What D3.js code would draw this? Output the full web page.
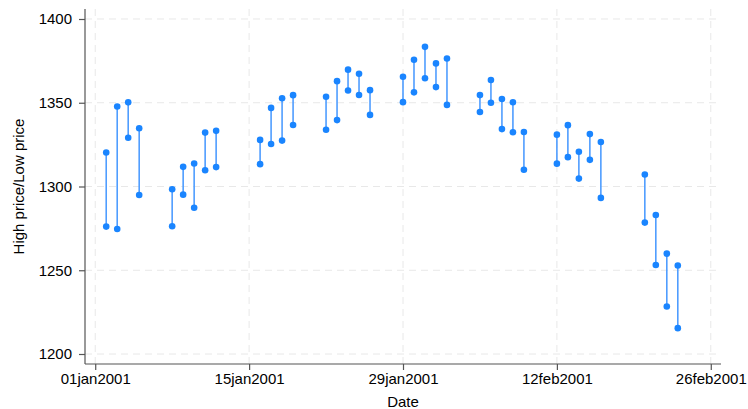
<!DOCTYPE html>
<html>
<head>
<meta charset="utf-8">
<script src="https://cdn.jsdelivr.net/npm/d3@7"></script>
<style>
  body { margin: 0; background: #fff; }
  text { font-family: "Liberation Sans", Arial, sans-serif; fill: #000; }
</style>
</head>
<body>
<div id="chart"></div>
<script>
// trading days, S&P 500, Jan-Feb 2001
const dates = ["2001-01-02","2001-01-03","2001-01-04","2001-01-05","2001-01-08","2001-01-09",
  "2001-01-10","2001-01-11","2001-01-12","2001-01-16","2001-01-17","2001-01-18","2001-01-19",
  "2001-01-22","2001-01-23","2001-01-24","2001-01-25","2001-01-26","2001-01-29","2001-01-30",
  "2001-01-31","2001-02-01","2001-02-02","2001-02-05","2001-02-06","2001-02-07","2001-02-08",
  "2001-02-09","2001-02-12","2001-02-13","2001-02-14","2001-02-15","2001-02-16","2001-02-20",
  "2001-02-21","2001-02-22","2001-02-23"];
const high = [1320.28,1347.76,1350.24,1334.77,1298.35,1311.72,1313.76,1332.19,1333.21,1327.81,
  1346.92,1352.71,1354.55,1353.62,1362.9,1369.75,1367.35,1357.51,1365.54,1375.68,1383.37,1373.5,
  1376.38,1354.56,1363.55,1352.26,1350.32,1332.53,1330.96,1336.62,1320.73,1331.29,1326.61,
  1307.16,1282.97,1259.94,1252.82];
const low = [1276.05,1274.62,1329.14,1294.95,1276.29,1295.14,1287.28,1309.72,1311.59,1313.33,
  1325.41,1327.41,1336.74,1333.84,1339.63,1357.28,1354.63,1342.75,1350.36,1356.2,1364.66,1359.34,
  1348.72,1344.48,1350.04,1334.26,1332.42,1309.98,1313.64,1317.51,1304.72,1315.92,1293.18,
  1278.44,1253.16,1228.33,1215.44];
const xTicks = ["2001-01-01","2001-01-15","2001-01-29","2001-02-12","2001-02-26"];
const yTicks = [1200, 1250, 1300, 1350, 1400];

const W = 748, H = 409;
const pL = 85, pR = 721, pT = 9, pB = 364;
const fs = "15px";
const day0 = Date.UTC(2001, 0, 1);
const toDay = s => (Date.parse(s + "T00:00:00Z") - day0) / 86400000;
const fmt = s => {
  const d = new Date(s + "T00:00:00Z");
  return d3.utcFormat("%d%b%Y")(d).toLowerCase();
};

const svg = d3.select("#chart").append("svg")
  .attr("width", W).attr("height", H);

const x = d3.scaleLinear().domain([-0.93, 56.93]).range([pL, pR]);
const y = d3.scaleLinear().domain([1194.03, 1405.97]).range([pB, pT]);

// grid
svg.append("g").selectAll("line").data(yTicks).enter().append("line")
  .attr("x1", pL).attr("x2", pR)
  .attr("y1", d => y(d)).attr("y2", d => y(d))
  .attr("stroke", "#e8e8e8").attr("stroke-width", 1)
  .attr("stroke-dasharray", "7,5");
svg.append("g").selectAll("line").data(xTicks).enter().append("line")
  .attr("x1", d => x(toDay(d))).attr("x2", d => x(toDay(d)))
  .attr("y1", pT).attr("y2", pB)
  .attr("stroke", "#e8e8e8").attr("stroke-width", 1)
  .attr("stroke-dasharray", "7,5");

// axes
const yAxis = svg.append("g")
  .attr("transform", "translate(" + pL + ",0)")
  .call(d3.axisLeft(y).tickValues(yTicks).tickSize(6).tickPadding(7).tickFormat(d3.format("d")));
const xAxis = svg.append("g")
  .attr("transform", "translate(0," + pB + ")")
  .call(d3.axisBottom(x).tickValues(xTicks.map(toDay)).tickSize(6).tickPadding(3)
    .tickFormat((d, i) => fmt(xTicks[i])));
[yAxis, xAxis].forEach(a => {
  a.select(".domain").attr("stroke", "#555").attr("stroke-width", 1.2);
  a.selectAll(".tick line").attr("stroke", "#555").attr("stroke-width", 1.2);
  a.selectAll(".tick text").style("font-size", fs)
    .style("font-family", "'Liberation Sans', Arial, sans-serif").attr("fill", "#000");
});
yAxis.select(".domain").attr("d", "M0," + pT + "V" + pB);
xAxis.select(".domain").attr("d", "M" + pL + ",0H" + pR);

// spikes and markers
const rows = dates.map((d, i) => ({ t: toDay(d), hi: high[i], lo: low[i] }));
const g = svg.append("g");
g.selectAll("line.spike").data(rows).enter().append("line")
  .attr("class", "spike")
  .attr("x1", d => x(d.t)).attr("x2", d => x(d.t))
  .attr("y1", d => y(d.hi)).attr("y2", d => y(d.lo))
  .attr("stroke", "#4f9dff").attr("stroke-width", 1.6);
g.selectAll("circle.hi").data(rows).enter().append("circle")
  .attr("class", "hi")
  .attr("cx", d => x(d.t)).attr("cy", d => y(d.hi)).attr("r", 3.3)
  .attr("fill", "#1a85ff");
g.selectAll("circle.lo").data(rows).enter().append("circle")
  .attr("class", "lo")
  .attr("cx", d => x(d.t)).attr("cy", d => y(d.lo)).attr("r", 3.3)
  .attr("fill", "#1a85ff");

// titles
svg.append("text").attr("x", (pL + pR) / 2).attr("y", 407)
  .attr("text-anchor", "middle").style("font-size", fs).text("Date");
svg.append("text")
  .attr("transform", "translate(24," + (pT + pB) / 2 + ") rotate(-90)")
  .attr("text-anchor", "middle").style("font-size", fs).text("High price/Low price");
</script>
</body>
</html>
